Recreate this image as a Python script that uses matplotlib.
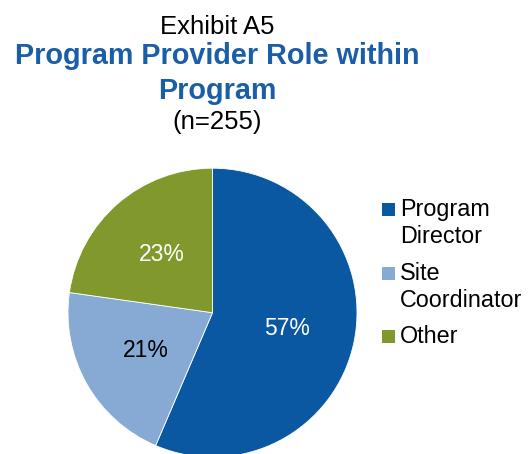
import matplotlib
matplotlib.use("Agg")
import matplotlib.pyplot as plt
from matplotlib.patches import Rectangle

plt.rcParams['font.family'] = ['Liberation Sans', 'DejaVu Sans']

categories = ["Program\nDirector", "Site\nCoordinator", "Other"]
values = [57, 21, 23]
colors = ["#0B58A2", "#86AAD3", "#81992C"]
label_colors = ["white", "black", "white"]
title_color = "#1A5EA6"

W, H = 528, 454
fig = plt.figure(figsize=(W / 100, H / 100), dpi=100)

# pie axes: center (212.5, 312.7) px from top-left, radius 144.5 px
cx, cy, r = 212.5, 312.7, 144.5
ax = fig.add_axes([(cx - r) / W, (H - cy - r) / H, 2 * r / W, 2 * r / H])
wedges, texts = ax.pie(values, colors=colors, startangle=90, counterclock=False,
                       labels=[f"{v}%" for v in values], labeldistance=0.53,
                       wedgeprops=dict(linewidth=0.6, edgecolor="white"),
                       textprops=dict(fontsize=16.5))
for t, c in zip(texts, label_colors):
    t.set_color(c)
    t.set_ha("center")
    t.set_va("center")
ax.set_xlim(-1, 1)
ax.set_ylim(-1, 1)
ax.set_aspect("equal")
ax.axis("off")

# titles
def fy(y):
    return 1 - y / H

tx = 217 / W
fig.text(tx, fy(34), "Exhibit A5", ha="center", va="baseline", fontsize=18.5, color="black")
fig.text(tx, fy(64), "Program Provider Role within", ha="center", va="baseline",
         fontsize=20.7, fontweight="bold", color=title_color)
fig.text(tx, fy(99), "Program", ha="center", va="baseline",
         fontsize=20.7, fontweight="bold", color=title_color)
fig.text(tx, fy(129), "(n=255)", ha="center", va="baseline", fontsize=18.5, color="black")

# legend
baselines = [216, 280, 343]
line_gap = 27
for cat, col, b in zip(categories, colors, baselines):
    fig.patches.append(Rectangle((382 / W, fy(b - 0.5)), 13 / W, 13 / H,
                                 transform=fig.transFigure, facecolor=col,
                                 edgecolor="none"))
    for i, line in enumerate(cat.split("\n")):
        fig.text(400 / W, fy(b + i * line_gap), line, ha="left", va="baseline",
                 fontsize=16.8, color="black")

fig.savefig("out.png", dpi=100)
